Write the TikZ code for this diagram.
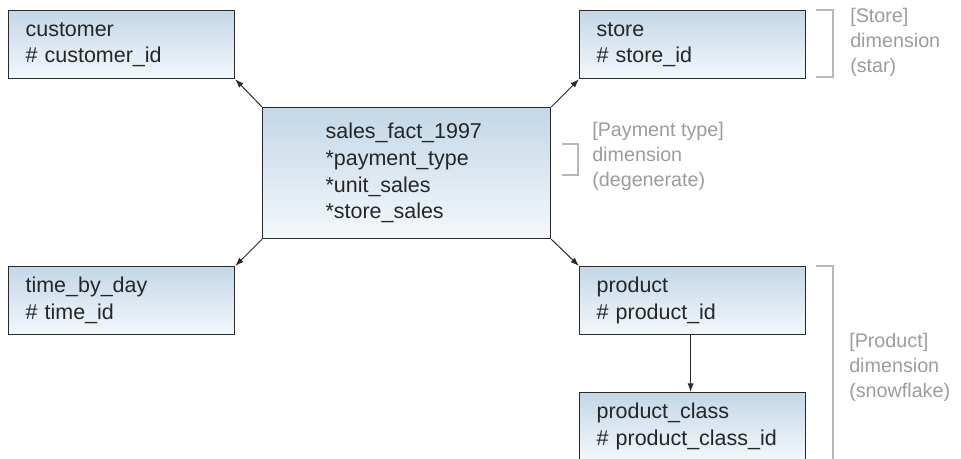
\documentclass[tikz,border=0pt]{standalone}
\usepackage{fontspec}
\setmainfont{Liberation Sans}
\usetikzlibrary{arrows.meta}

\definecolor{boxtop}{HTML}{C3D7E7}
\definecolor{boxbot}{HTML}{F4F8FB}
\definecolor{edge}{HTML}{2A2A2A}
\definecolor{brack}{HTML}{B8B8B8}
\definecolor{note}{HTML}{9C9C9C}

\tikzset{
  entity/.style={draw=edge, line width=0.9pt, top color=boxtop, bottom color=boxbot,
    anchor=north west, align=left, inner xsep=12.75pt, inner ysep=0pt,
    font=\fontsize{16.1pt}{19.9pt}\selectfont, text=black!85},
  dimbox/.style={entity, minimum width=169.5pt, minimum height=51pt, text width=144pt},
  link/.style={draw=edge, line width=0.75pt, -{Latex[length=6.5pt,width=4.6pt]}},
  bracket/.style={draw=brack, line width=1pt},
  % anchored at the baseline of the last line
  notetext/.style={anchor=base west, align=left, inner sep=0pt, text=note,
    font=\fontsize{14.8pt}{18.75pt}\selectfont}
}

\begin{document}
\begin{tikzpicture}[x=0.75pt, y=-0.75pt]
  \useasboundingbox (0,0) rectangle (961,458);
  \clip (0,0) rectangle (961,458);

  % fact table in the middle
  \node[entity, minimum width=216pt, minimum height=98.25pt, text width=121.5pt,
        inner xsep=47.25pt] (fact) at (262,107)
    {sales\_fact\_1997\\{}*payment\_type\\{}*unit\_sales\\{}*store\_sales};

  % dimension tables
  \node[dimbox] (customer) at (8,10)   {customer\\\# customer\_id};
  \node[dimbox] (store)    at (579,10) {store\\\# store\_id};
  \node[dimbox] (time)     at (8,266)  {time\_by\_day\\\# time\_id};
  \node[dimbox] (product)  at (579,266) {product\\\# product\_id};
  \node[dimbox] (pclass)   at (579,392) {product\_class\\\# product\_class\_id};

  % references from the fact table
  \draw[link] (fact.north west) -- (customer.south east);
  \draw[link] (fact.north east) -- (store.south west);
  \draw[link] (fact.south west) -- (time.north east);
  \draw[link] (fact.south east) -- (product.north west);
  \draw[link] ([xshift=-1.5pt]product.south) -- ([xshift=-1.5pt]pclass.north);

  % brackets grouping the dimensions
  \draw[bracket] (816,10) -- (833,10) -- (833,77) -- (816,77);
  \draw[bracket] (562,144) -- (578,144) -- (578,175) -- (562,175);
  \draw[bracket] (816,266) -- (833,266) -- (833,470);

  % dimension notes
  \node[notetext] (storenote)   at (850,72)  {[Store]\\dimension\\(star)};
  \node[notetext] (paynote)     at (592,186) {[Payment type]\\dimension\\(degenerate)};
  \node[notetext] (productnote) at (849,397) {[Product]\\dimension\\(snowflake)};
\end{tikzpicture}
\end{document}
